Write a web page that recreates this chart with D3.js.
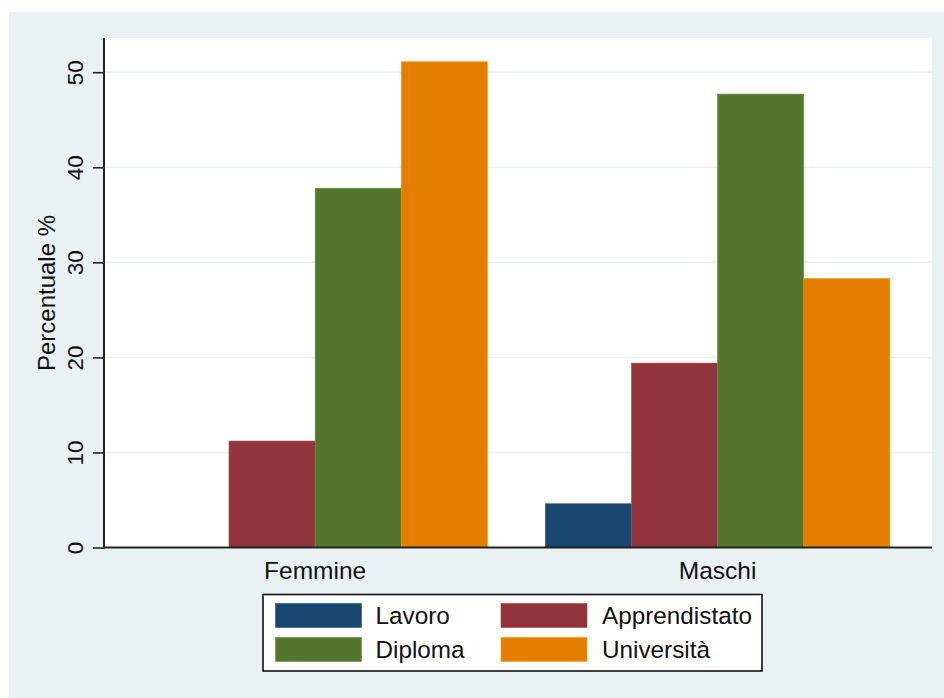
<!DOCTYPE html>
<meta charset="utf-8">
<style>
    body { margin: 0; background: #fff; }
    text { font-family: "Liberation Sans", Arial, sans-serif; fill: #111; }
</style>
<svg width="944" height="698"></svg>
<script src="https://cdnjs.cloudflare.com/ajax/libs/d3/7.8.5/d3.min.js"></script>
<script>
    // data
    var groups = ["Femmine", "Maschi"];
    var series = ["Lavoro", "Apprendistato", "Diploma", "Università"];
    var lavoro = [0, 4.6];
    var apprendistato = [11.2, 19.4];
    var diploma = [37.8, 47.7];
    var universita = [51.1, 28.3];
    var yTicks = [0, 10, 20, 30, 40, 50];
    var colors = ["#1a476f", "#90353b", "#55752f", "#e37e00"];

    var values = [lavoro, apprendistato, diploma, universita];

    var svg = d3.select("svg");
    var bg = "#e9f1f3";

    var plot = {left: 104, right: 932, top: 38, bottom: 547.5};

    // graph region
    svg.append("rect")
        .attr("x", 9).attr("y", 12)
        .attr("width", 944 - 9).attr("height", 698 - 12)
        .attr("fill", bg);

    svg.append("rect")
        .attr("x", plot.left).attr("y", plot.top)
        .attr("width", plot.right - plot.left).attr("height", plot.bottom - plot.top)
        .attr("fill", "#fff");

    var x0 = d3.scaleBand()
        .domain(groups)
        .range([plot.left, plot.right])
        .paddingInner(0.1441)
        .paddingOuter(0.1006)
        .align(0.48);

    var x1 = d3.scaleBand()
        .domain(series)
        .range([0, x0.bandwidth()]);

    var y = d3.scaleLinear()
        .domain([0, 53.6])
        .range([plot.bottom, plot.top]);

    // gridlines
    svg.append("g")
        .selectAll("line")
        .data(yTicks.filter(function(d) { return d > 0; }))
        .enter().append("line")
        .attr("x1", plot.left).attr("x2", plot.right)
        .attr("y1", function(d) { return y(d); })
        .attr("y2", function(d) { return y(d); })
        .attr("stroke", bg)
        .attr("stroke-width", 1.5);

    // bars
    var rows = [];
    groups.forEach(function(g, gi) {
        series.forEach(function(s, si) {
            rows.push({group: g, series: s, value: values[si][gi], color: colors[si]});
        });
    });

    svg.append("g")
        .selectAll("rect")
        .data(rows.filter(function(d) { return d.value > 0; }))
        .enter().append("rect")
        .attr("x", function(d) { return x0(d.group) + x1(d.series); })
        .attr("y", function(d) { return y(d.value); })
        .attr("width", x1.bandwidth())
        .attr("height", function(d) { return y(0) - y(d.value); })
        .attr("fill", function(d) { return d.color; })
        .attr("stroke", function(d) { return d3.color(d.color).brighter(0.6); })
        .attr("stroke-width", 0.6);

    // y axis
    var yAxis = svg.append("g")
        .attr("transform", "translate(" + plot.left + ",0)")
        .call(d3.axisLeft(y).tickValues(yTicks).tickSize(11).tickPadding(0).tickFormat(d3.format("d")));

    yAxis.select(".domain")
        .attr("d", "M0," + plot.top + "V" + (plot.bottom + 1))
        .attr("stroke", "#222")
        .attr("stroke-width", 2);

    yAxis.selectAll(".tick line")
        .attr("stroke", "#222")
        .attr("stroke-width", 1.6);

    yAxis.selectAll(".tick text")
        .attr("x", null).attr("dy", null)
        .attr("transform", "translate(-21,0) rotate(-90)")
        .attr("text-anchor", "middle")
        .style("font-size", "22.5px")
        .style("font-family", "'Liberation Sans', Arial, sans-serif")
        .attr("fill", "#111");

    // x axis
    var xAxis = svg.append("g")
        .attr("transform", "translate(0," + plot.bottom + ")")
        .call(d3.axisBottom(x0).tickSize(0).tickPadding(0));

    xAxis.select(".domain")
        .attr("d", "M" + (plot.left - 1) + ",0H" + plot.right)
        .attr("stroke", "#222")
        .attr("stroke-width", 2);

    xAxis.selectAll(".tick text")
        .attr("y", 31.5).attr("dy", null)
        .style("font-size", "24.5px")
        .style("font-family", "'Liberation Sans', Arial, sans-serif")
        .attr("fill", "#111");

    // axis title
    svg.append("text")
        .attr("transform", "translate(55," + 293 + ") rotate(-90)")
        .attr("text-anchor", "middle")
        .style("font-size", "24px")
        .text("Percentuale %");

    // legend
    var legend = svg.append("g");
    legend.append("rect")
        .attr("x", 263).attr("y", 594.5)
        .attr("width", 499).attr("height", 76.5)
        .attr("fill", "#fff")
        .attr("stroke", "#111")
        .attr("stroke-width", 1.6);

    var item = legend.selectAll("g.item")
        .data(series)
        .enter().append("g")
        .attr("class", "item")
        .attr("transform", function(d, i) {
            return "translate(" + (i % 2 ? 501 : 275.5) + "," + (i < 2 ? 603.5 : 637.5) + ")";
        });

    item.append("rect")
        .attr("width", 86).attr("height", 24)
        .attr("fill", function(d, i) { return colors[i]; })
        .attr("stroke", function(d, i) { return d3.color(colors[i]).brighter(0.6); })
        .attr("stroke-width", 0.6);

    item.append("text")
        .attr("x", function(d, i) { return i % 2 ? 101 : 100; })
        .attr("y", 20.5)
        .style("font-size", "24.3px")
        .text(function(d) { return d; });
</script>
